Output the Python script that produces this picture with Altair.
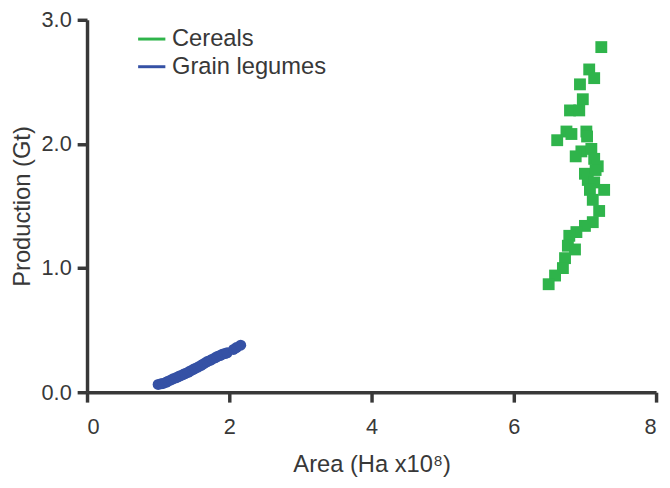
import altair as alt
import pandas as pd

cereal_area = [7.23, 7.06, 7.13, 6.93, 6.97, 6.79, 6.92, 6.74, 6.81, 6.61, 7.02, 7.03,
               6.95, 7.09, 6.87, 7.13, 7.18, 7.00, 7.15, 7.04, 7.13, 7.27, 7.07, 7.11,
               7.20, 7.11, 7.00, 6.88, 6.78, 6.76, 6.86, 6.72, 6.69, 6.58, 6.49]
cereal_prod = [2.78, 2.60, 2.53, 2.48, 2.36, 2.27, 2.27, 2.10, 2.08, 2.03, 2.10, 2.06,
               1.94, 1.96, 1.90, 1.88, 1.82, 1.76, 1.79, 1.71, 1.69, 1.63, 1.63, 1.55,
               1.46, 1.37, 1.34, 1.29, 1.26, 1.18, 1.15, 1.08, 1.00, 0.94, 0.87]

legume_area = [1.00, 1.04, 1.07, 1.11, 1.14, 1.18, 1.21, 1.25, 1.28, 1.31, 1.35, 1.38,
               1.42, 1.45, 1.49, 1.52, 1.56, 1.60, 1.63, 1.66, 1.69, 1.73, 1.76, 1.80,
               1.83, 1.87, 1.90, 1.94, 1.97, 2.06, 2.10, 2.16]
legume_prod = [0.063, 0.068, 0.071, 0.080, 0.089, 0.099, 0.108, 0.116, 0.124, 0.133, 0.142, 0.151,
               0.160, 0.171, 0.182, 0.192, 0.203, 0.215, 0.226, 0.236, 0.247, 0.256, 0.266, 0.277,
               0.287, 0.296, 0.305, 0.312, 0.318, 0.345, 0.360, 0.379]

series = ["Cereals", "Grain legumes"]
colors = ["#2fb44b", "#3551a5"]

cereals = pd.DataFrame({"Area": cereal_area, "Production": cereal_prod, "Series": series[0]})
legumes = pd.DataFrame({"Area": legume_area, "Production": legume_prod, "Series": series[1]})
both = pd.concat([cereals, legumes])
both["Key"] = both["Series"]

font = "Liberation Sans"
axis_color = "#383838"

x_enc = alt.X("Area:Q", title="Area (Ha x10⁸)",
              scale=alt.Scale(domain=[0, 8], nice=False, zero=True),
              axis=alt.Axis(values=[0, 2, 4, 6, 8], format="d", labelPadding=15,
                            titlePadding=15))
y_enc = alt.Y("Production:Q", title="Production (Gt)",
              scale=alt.Scale(domain=[0, 3], nice=False),
              axis=alt.Axis(values=[0, 1, 2, 3], format=".1f", labelPadding=6,
                            titlePadding=7))
fill_enc = alt.Fill("Series:N", scale=alt.Scale(domain=series, range=colors), legend=None)
stroke_enc = alt.Stroke("Key:N", scale=alt.Scale(domain=series, range=colors),
                        legend=alt.Legend(title=None, orient="none", legendX=50, legendY=4,
                                          symbolType="stroke", symbolSize=760,
                                          symbolStrokeWidth=3, symbolOpacity=1,
                                          labelFontSize=24,
                                          labelFont=font, labelColor=axis_color,
                                          labelOffset=5, rowPadding=0, padding=0))

legend_layer = alt.Chart(both).mark_line(opacity=0).encode(
    x=x_enc, y=y_enc, stroke=stroke_enc, detail="Key:N")
sq = alt.Chart(cereals).mark_square(filled=True, opacity=1, size=144, strokeWidth=0).encode(
    x=x_enc, y=y_enc, fill=fill_enc)
ci = alt.Chart(legumes).mark_circle(opacity=1, size=125, strokeWidth=0).encode(
    x=x_enc, y=y_enc, fill=fill_enc)

chart = alt.layer(legend_layer, sq, ci).properties(
    width=576, height=377,
    autosize=alt.AutoSizeParams(type="none"),
    padding={"left": 80, "top": 9, "right": 6, "bottom": 94},
).configure_view(stroke=None).configure_axis(
    grid=False,
    domainColor=axis_color, domainWidth=3.5,
    tickColor=axis_color, tickWidth=3.5, tickSize=10,
    labelFont=font, labelFontSize=22, labelColor=axis_color,
    titleFont=font, titleFontSize=24, titleFontWeight="normal", titleColor=axis_color,
)

chart.save("out.html", embed_options={"renderer": "svg", "actions": False})
